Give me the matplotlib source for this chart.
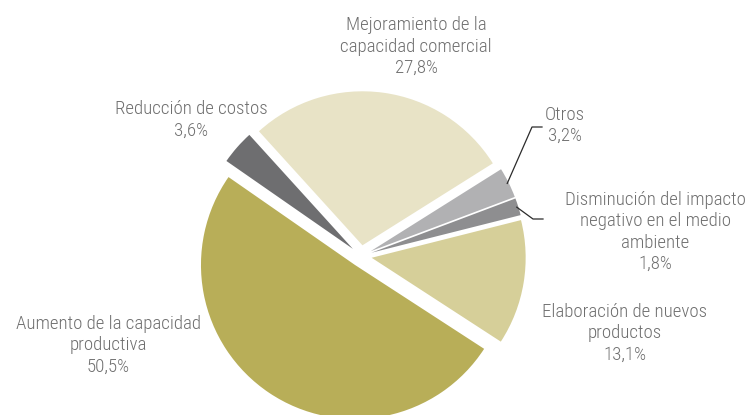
import numpy as np
import matplotlib
matplotlib.use("Agg")
import matplotlib.pyplot as plt
from matplotlib import font_manager as fm

# ---- data ----
categories = ["Aumento de la capacidad\nproductiva", "Reducción de costos",
              "Mejoramiento de la\ncapacidad comercial", "Otros",
              "Disminución del impacto\nnegativo en el medio\nambiente",
              "Elaboración de nuevos\nproductos"]
values = [50.5, 3.6, 27.8, 3.2, 1.8, 13.1]
pct_labels = ["50,5%", "3,6%", "27,8%", "3,2%", "1,8%", "13,1%"]
colors = ["#b8ae58", "#6e6e70", "#e8e3c6", "#b1b1b3", "#8e8e90", "#d6cf99"]

# ---- font choice ----
names = {f.name for f in fm.fontManager.ttflist}
family = "DejaVu Sans"
for cand in ["Roboto Condensed", "Liberation Sans Narrow", "Open Sans Condensed",
             "Noto Sans Condensed"]:
    if cand in names:
        family = cand
        break
plt.rcParams["font.family"] = [family, "DejaVu Sans"]

W, H = 747, 415
fig = plt.figure(figsize=(W / 100, H / 100), dpi=100)
ax = fig.add_axes([0, 0, 1, 1])

cx, cy_s = 361, 256
R = 154
explode_px = 10.8
start = -33
wedges, _ = ax.pie(values, colors=colors, startangle=start, counterclock=False,
                   center=(cx, H - cy_s), radius=R,
                   explode=[explode_px] * len(values),
                   wedgeprops=dict(linewidth=0), frame=True)
ax.set_xlim(0, W)
ax.set_ylim(0, H)
ax.set_aspect("equal")
ax.axis("off")

txt_color = "#6f6f6f"
fs = 13.6
label_pos = [(108, 345), (191, 120), (416, 46.5), (565, 125.5), (655, 232), (625, 333)]
for cat, pct, (x, y) in zip(categories, pct_labels, label_pos):
    ax.text(x, H - y, cat + "\n" + pct, ha="center", va="center", multialignment="center",
            fontsize=fs, color=txt_color, linespacing=1.25, fontweight="light")

# leader lines for small slices
def wedge_edge_point(w, frac=0.99):
    ang = np.deg2rad((w.theta1 + w.theta2) / 2)
    x0, y0 = w.center
    return x0 + w.r * frac * np.cos(ang), y0 + w.r * frac * np.sin(ang)

leaders = {3: [(532, 127), (542, 127)], 4: [(533, 219), (543, 219)]}
for idx, pts in leaders.items():
    sx, sy = wedge_edge_point(wedges[idx])
    xs = [sx] + [p[0] for p in pts]
    ys = [sy] + [H - p[1] for p in pts]
    ax.plot(xs, ys, color="#2b2b2b", lw=0.9)

fig.savefig("out.png", dpi=100)
